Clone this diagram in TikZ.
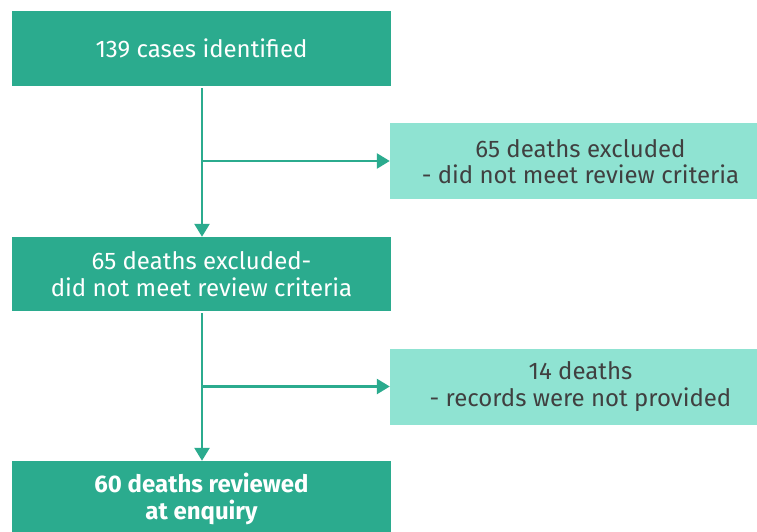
\documentclass[tikz,border=0pt]{standalone}
\usepackage{fontspec}
\setmainfont{Fira Sans}
\usetikzlibrary{arrows.meta}
\definecolor{dkgreen}{HTML}{2BAB8E}
\definecolor{ltgreen}{HTML}{8FE3D2}
\definecolor{txtgray}{HTML}{404040}
\begin{document}
\begin{tikzpicture}[x=1pt,y=-1pt,
  mainbox/.style={fill=dkgreen,text=white,minimum width=379pt,inner sep=0pt,align=center,font=\fontsize{24}{27}\selectfont},
  sidebox/.style={fill=ltgreen,minimum width=367pt,minimum height=76pt,inner sep=0pt},
  sidetext/.style={text=txtgray,inner sep=0pt,align=center,font=\fontsize{24}{26.5}\selectfont},
  conn/.style={draw=dkgreen,line width=2.6pt,-{Triangle[length=13pt,width=15pt]}}]
\useasboundingbox (0,0) rectangle (757,532);
\node[mainbox,minimum height=75pt] (a) at (201.5,48.5) {139 cases identified};
\node[sidebox] (r1) at (573.5,161) {};
\node[sidetext] (r1t) at ([xshift=7pt,yshift=-0.5pt]r1.center) {65 deaths excluded\\ - did not meet review criteria};
\node[mainbox,minimum height=74pt] (b) at (201.5,274) {65 deaths excluded-\\did not meet review criteria};
\node[sidebox] (r2) at (573.5,386.5) {};
\node[sidetext] (r2t) at ([xshift=7pt]r2.center) {14 deaths\\ - records were not provided};
\node[mainbox,minimum height=76pt,font=\fontsize{24}{27}\selectfont\bfseries] (c) at (201.5,499) {60 deaths reviewed\\at enquiry};
\coordinate (j1) at (202,161);
\coordinate (j2) at (202,386.5);
\draw[conn] ([yshift=-2pt]a.south -| j1) -- (b.north -| j1);
\draw[conn] (j1) -- (r1.west);
\draw[conn] ([yshift=-2pt]b.south -| j2) -- (c.north -| j2);
\draw[conn] (j2) -- (r2.west);
\end{tikzpicture}
\end{document}
